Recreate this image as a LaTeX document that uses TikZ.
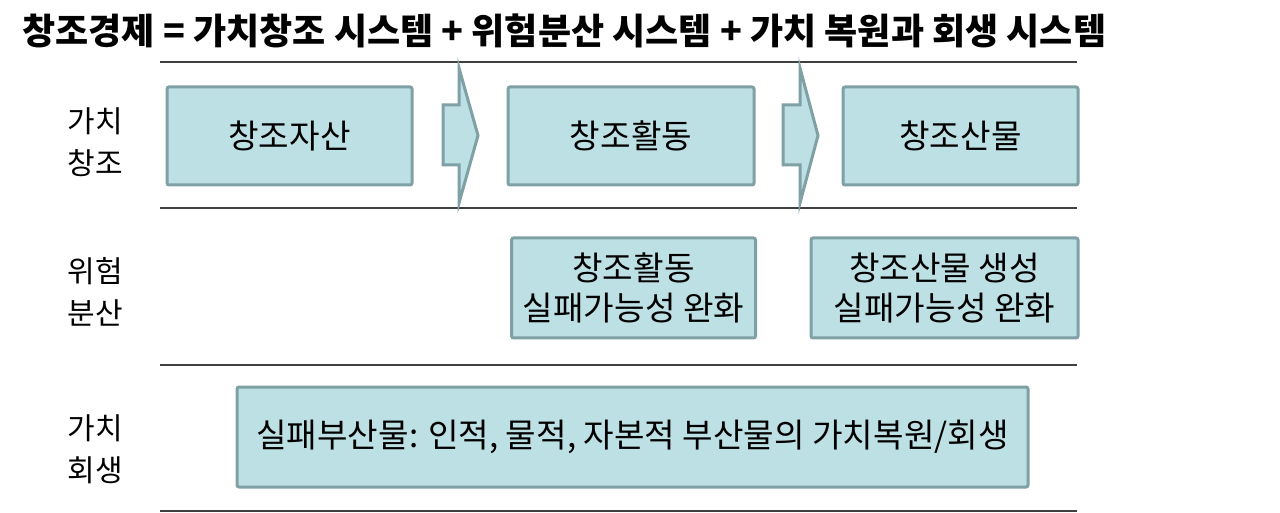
\documentclass[tikz,border=0pt]{standalone}
\usepackage{fontspec}
\setmainfont{Noto Sans CJK KR}
\usetikzlibrary{positioning}
\definecolor{boxfill}{HTML}{BDE0E4}
\definecolor{boxline}{HTML}{7FA0A5}
\definecolor{ruleline}{HTML}{404040}

\begin{document}
\begin{tikzpicture}[x=0.5pt,y=-0.5pt,
  box/.style={draw=boxline, fill=boxfill, line width=1.5pt, rounded corners=1pt, align=center, inner sep=0pt, font=\fontsize{16.6}{20}\selectfont},
  rowlabel/.style={align=center, inner sep=0pt, font=\fontsize{15}{21}\selectfont},
  sep/.style={draw=ruleline, line width=1.2pt},
  flow/.style={draw=boxline, fill=boxfill, line width=1.5pt},
]
  \useasboundingbox (0,0) rectangle (1280,513);

  % Title
  \node[anchor=base west, inner sep=0pt, font=\bfseries\fontsize{18}{20}\selectfont] (title) at (22,45)
    {창조경제 = 가치창조 시스템 + 위험분산 시스템 + 가치 복원과 회생 시스템};

  % Separators
  \draw[sep] (160,62) -- (1077,62);
  \draw[sep] (160,208) -- (1077,208);
  \draw[sep] (160,365) -- (1077,365);
  \draw[sep] (160,511) -- (1077,511);

  % Row labels
  \node[rowlabel] (lcreate) at (95,142) {가치\\창조};
  \node[rowlabel] (lrisk) at (95,292) {위험\\분산};
  \node[rowlabel] (lrevive) at (95,449) {가치\\회생};

  % Value creation
  \node[box, minimum width=122.5pt, minimum height=49pt] (asset) at (289.5,136) {창조자산};
  \node[box, minimum width=123pt, minimum height=49pt] (activity) at (631,136) {창조활동};
  \node[box, minimum width=117.5pt, minimum height=49pt] (output) at (960.5,136) {창조산물};

  \draw[flow] (443,105) -- (459,105) -- (459,68) -- (478,135.5) -- (459,203) -- (459,165) -- (443,165) -- cycle;
  \draw[flow] (783,105) -- (800,105) -- (800,68) -- (818,135.5) -- (800,203) -- (800,165) -- (783,165) -- cycle;

  % Risk sharing
  \node[box, minimum width=122pt, minimum height=50pt] (riskact) at (633.5,288) {창조활동\\실패가능성 완화};
  \node[box, minimum width=133.5pt, minimum height=50pt] (riskout) at (944.5,288) {창조산물 생성\\실패가능성 완화};

  % Value recovery
  \node[box, minimum width=395.5pt, minimum height=50pt] (revive) at (632.5,437) {실패부산물: 인적, 물적, 자본적 부산물의 가치복원/회생};
\end{tikzpicture}
\end{document}
